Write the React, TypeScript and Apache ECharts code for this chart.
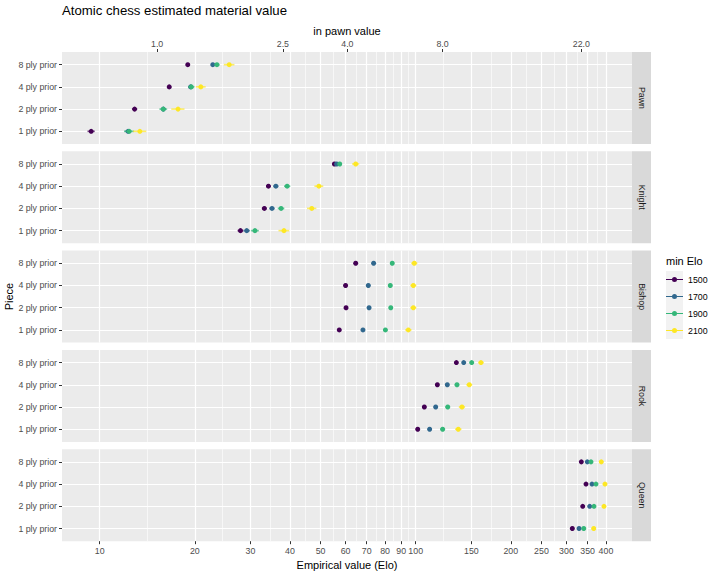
import React, { useEffect, useRef } from "react";
import * as echarts from "echarts";

const PIECES = ["Pawn", "Knight", "Bishop", "Rook", "Queen"];
const PLIES = ["1 ply prior", "2 ply prior", "4 ply prior", "8 ply prior"];
const GROUPS = ["1500", "1700", "1900", "2100"];
const COLORS = ["#440154", "#31688E", "#35B779", "#FDE725"];

const X_BREAKS = [10, 20, 30, 40, 50, 60, 70, 80, 90, 100, 150, 200, 250, 300, 350, 400];
const PAWN_BREAKS = [1.0, 2.5, 4.0, 8.0, 22.0];
const PAWN_ELO = 15.2;
const X_LIMITS = [7.6, 483.6];

// order: Pawn(1,2,4,8 ply), Knight(...), Bishop(...), Rook(...), Queen(...)
const ELO_1500 = [9.4, 12.9, 16.6, 19.0, 27.9, 33.2, 34.2, 55.3, 57.3, 60.2, 60.0, 64.6, 101.5, 106.5, 117.1, 134.5, 313.1, 337.7, 345.9, 334.3];
const ELO_1700 = [12.3, 15.9, 19.4, 22.8, 29.2, 35.1, 36.1, 56.2, 68.1, 71.2, 70.8, 73.6, 110.7, 115.7, 125.9, 141.9, 328.8, 355.3, 361.3, 349.2];
const ELO_1900 = [12.4, 15.9, 19.5, 23.5, 31.0, 37.5, 39.2, 57.5, 80.2, 83.4, 83.1, 84.3, 121.7, 126.3, 135.1, 150.4, 340.2, 366.6, 372.0, 358.7];
const ELO_2100 = [13.4, 17.7, 20.9, 25.7, 38.3, 46.9, 49.4, 64.6, 94.8, 98.3, 98.3, 99.0, 136.4, 140.1, 147.8, 160.9, 365.9, 394.3, 397.2, 386.6];

// half-width of error bars (Elo)
const ERR_1500 = [0.25, 0.25, 0.25, 0.25, 0.6, 0.6, 0.6, 0.6, 0.8, 0.8, 0.8, 0.8, 1.5, 1.5, 1.5, 1.5, 3, 3, 3, 3];
const ERR_1700 = [0.3, 0.3, 0.3, 0.3, 0.7, 0.7, 0.7, 0.7, 1.0, 1.0, 1.0, 1.0, 1.8, 1.8, 1.8, 1.8, 3.5, 3.5, 3.5, 3.5];
const ERR_1900 = [0.45, 0.45, 0.45, 0.45, 0.9, 0.9, 0.9, 0.9, 1.2, 1.2, 1.2, 1.2, 2.2, 2.2, 2.2, 2.2, 4.5, 4.5, 4.5, 4.5];
const ERR_2100 = [0.65, 0.85, 0.75, 1.0, 1.5, 1.6, 1.6, 1.7, 2.2, 2.2, 2.2, 2.2, 3.2, 3.2, 3.2, 3.2, 6, 6, 6, 6];

const VALUES = [ELO_1500, ELO_1700, ELO_1900, ELO_2100];
const ERRORS = [ERR_1500, ERR_1700, ERR_1900, ERR_2100];

const FONT = "Liberation Sans";
const L = (v: number) => Math.log10(v);

export default function App() {
  const ref = useRef<HTMLDivElement>(null);

  useEffect(() => {
    document.body.style.margin = "0";
    if (!ref.current) return;
    const chart = echarts.init(ref.current, undefined, { renderer: "svg" });

    const GRID_LEFT = 62;
    const GRID_W = 570;
    const TOP0 = 52;
    const STEP = 99.3;
    const PH = 92;

    const xmin = L(X_LIMITS[0]);
    const xmax = L(X_LIMITS[1]);
    const majorLog = X_BREAKS.map(L);
    const minorLog: number[] = [];
    for (let k = 0; k < majorLog.length - 1; k++) minorLog.push((majorLog[k] + majorLog[k + 1]) / 2);
    const pawnLog = PAWN_BREAKS.map((p) => L(p * PAWN_ELO));

    const grids = PIECES.map((_, i) => ({
      left: GRID_LEFT,
      top: TOP0 + i * STEP,
      width: GRID_W,
      height: PH,
      show: true,
      backgroundColor: "#EBEBEB",
      borderWidth: 0,
      containLabel: false,
      outerBoundsMode: "none",
    }));

    const xAxes: any[] = [];
    PIECES.forEach((_, i) => {
      const last = i === PIECES.length - 1;
      xAxes.push({
        type: "value",
        gridIndex: i,
        position: "bottom",
        min: xmin,
        max: xmax,
        axisLine: { show: false },
        axisTick: { show: last, customValues: majorLog, length: 3, lineStyle: { color: "#333333", width: 1 } },
        axisLabel: {
          show: last,
          customValues: majorLog,
          formatter: (v: number) => String(Math.round(Math.pow(10, v))),
          color: "#4D4D4D",
          fontSize: 8.8,
          fontFamily: FONT,
          margin: 5,
        },
        splitLine: { show: true, lineStyle: { color: "#FFFFFF", width: 1.2 } },
        name: last ? "Empirical value (Elo)" : "",
        nameLocation: "middle",
        nameGap: 18,
        nameTextStyle: { fontSize: 11, color: "#000000", fontFamily: FONT },
        z: 1,
      });
      xAxes.push({
        type: "value",
        gridIndex: i,
        position: "bottom",
        min: xmin,
        max: xmax,
        axisLine: { show: false },
        axisTick: { show: false, customValues: minorLog },
        axisLabel: { show: false },
        splitLine: { show: true, lineStyle: { color: "#FFFFFF", width: 0.6 } },
        z: 0,
      });
    });
    xAxes.push({
      type: "value",
      gridIndex: 0,
      position: "top",
      min: xmin,
      max: xmax,
      axisLine: { show: false },
      axisTick: { show: true, customValues: pawnLog, length: 3, lineStyle: { color: "#333333", width: 1 } },
      axisLabel: {
        show: true,
        customValues: pawnLog,
        formatter: (v: number) => (Math.pow(10, v) / PAWN_ELO).toFixed(1),
        color: "#4D4D4D",
        fontSize: 8.8,
        fontFamily: FONT,
        margin: 4,
      },
      splitLine: { show: false },
      name: "in pawn value",
      nameLocation: "middle",
      nameGap: 16,
      nameTextStyle: { fontSize: 11, color: "#000000", fontFamily: FONT },
    });

    const yTicks = PLIES.map((_, j) => j + 1);
    const yAxes = PIECES.map((_, i) => ({
      type: "value",
      gridIndex: i,
      min: 0.43,
      max: 4.57,
      axisLine: { show: false },
      axisTick: { show: true, customValues: yTicks, length: 3, lineStyle: { color: "#333333", width: 1 } },
      axisLabel: {
        customValues: yTicks,
        formatter: (v: number) => PLIES[Math.round(v) - 1] ?? "",
        color: "#4D4D4D",
        fontSize: 8.8,
        fontFamily: FONT,
        margin: 5,
      },
      splitLine: { show: true, lineStyle: { color: "#FFFFFF", width: 1.2 } },
    }));

    const series: any[] = [];
    GROUPS.forEach((g, gi) => {
      const vals = VALUES[gi];
      const errs = ERRORS[gi];
      const color = COLORS[gi];
      PIECES.forEach((_, pi) => {
        const ebData = PLIES.map((__, j) => {
          const v = vals[pi * 4 + j];
          const e = errs[pi * 4 + j];
          return [L(v - e), L(v + e), j + 1];
        });
        series.push({
          type: "custom",
          name: g + " range",
          xAxisIndex: pi * 2,
          yAxisIndex: pi,
          encode: { x: [0, 1], y: 2 },
          data: ebData,
          silent: true,
          renderItem: (params: any, api: any) => {
            const p1 = api.coord([api.value(0), api.value(2)]);
            const p2 = api.coord([api.value(1), api.value(2)]);
            return {
              type: "line",
              shape: { x1: p1[0], y1: p1[1], x2: p2[0], y2: p2[1] },
              style: { stroke: color, lineWidth: 1.6, opacity: 0.7 },
            };
          },
          z: 2 + gi,
        });
        series.push({
          type: "scatter",
          name: g,
          xAxisIndex: pi * 2,
          yAxisIndex: pi,
          symbol: "circle",
          symbolSize: 5,
          itemStyle: { color, opacity: 1 },
          data: PLIES.map((__, j) => [L(vals[pi * 4 + j]), j + 1]),
          silent: true,
          z: 2 + gi,
        });
      });
    });

    const graphics: any[] = [];
    PIECES.forEach((p, i) => {
      const top = TOP0 + i * STEP;
      graphics.push({
        type: "rect",
        shape: { x: GRID_LEFT + GRID_W, y: top, width: 19, height: PH },
        style: { fill: "#D9D9D9" },
        silent: true,
      });
      graphics.push({
        type: "text",
        x: GRID_LEFT + GRID_W + 9.5,
        y: top + PH / 2,
        rotation: -Math.PI / 2,
        style: {
          text: p,
          fontSize: 8.8,
          fontFamily: FONT,
          fill: "#1A1A1A",
          align: "center",
          verticalAlign: "middle",
        },
        silent: true,
      });
    });
    graphics.push({
      type: "text",
      x: 9,
      y: TOP0 + (STEP * 4 + PH) / 2,
      rotation: Math.PI / 2,
      style: { text: "Piece", fontSize: 11, fontFamily: FONT, fill: "#000000", align: "center", verticalAlign: "middle" },
      silent: true,
    });
    graphics.push({
      type: "text",
      x: 666,
      y: 261,
      style: { text: "min Elo", fontSize: 11, fontFamily: FONT, fill: "#000000", align: "left", verticalAlign: "middle" },
      silent: true,
    });
    graphics.push({
      type: "rect",
      shape: { x: 666, y: 271, width: 17, height: 17 * GROUPS.length },
      style: { fill: "#F2F2F2" },
      silent: true,
      z: -1,
    });

    const option: any = {
      animation: false,
      backgroundColor: "#FFFFFF",
      textStyle: { fontFamily: FONT },
      title: {
        text: "Atomic chess estimated material value",
        left: 62,
        top: 4,
        padding: 0,
        textStyle: { fontSize: 13.2, fontWeight: "normal", color: "#000000", fontFamily: FONT },
      },
      legend: {
        data: GROUPS,
        orient: "vertical",
        left: 666,
        top: 271,
        padding: 0,
        itemWidth: 17,
        itemHeight: 17,
        itemGap: 0,
        selectedMode: false,
        icon: "path://M0,8h17v1.2h-17z M11,8.6a2.5,2.5 0 1,1 -5,0a2.5,2.5 0 1,1 5,0z",
        textStyle: { fontSize: 8.8, lineHeight: 17, color: "#000000", fontFamily: FONT },
      },
      grid: grids,
      xAxis: xAxes,
      yAxis: yAxes,
      series,
      graphic: graphics,
    };
    chart.setOption(option);
    return () => chart.dispose();
  }, []);

  return <div ref={ref} style={{ width: 720, height: 576 }} />;
}
